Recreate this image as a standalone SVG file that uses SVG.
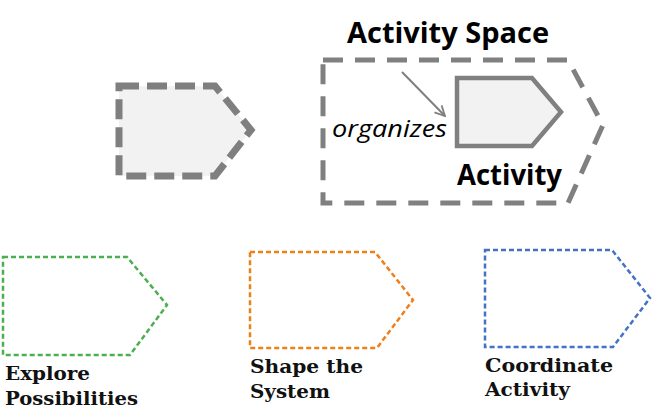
<svg xmlns="http://www.w3.org/2000/svg" width="654" height="412" viewBox="0 0 654 412">
<style>
.big{font-family:"Open Sans","Liberation Sans",sans-serif;font-weight:bold;font-size:28px;fill:#000}
.it{font-family:"Open Sans","Liberation Sans",sans-serif;font-style:italic;font-size:24px;fill:#000}
.lbl{font-family:"DejaVu Serif","Liberation Serif",serif;font-weight:bold;font-size:18px;fill:#111}
.gdash{fill:#f2f2f2;stroke:#7f7f7f;stroke-width:7;stroke-dasharray:20,8}
.small{fill:none;stroke-width:2.5;stroke-dasharray:5,3}
</style>
<defs>
<marker id="ah" viewBox="0 0 12 12" refX="11" refY="6" markerWidth="12" markerHeight="12" markerUnits="userSpaceOnUse" orient="auto">
<path d="M1,1 L11,6 L1,11" fill="none" stroke="#808080" stroke-width="1.8"/>
</marker>
</defs>
<g id="activity-shape">
<path class="gdash" d="M119,86 H215 L251,130 L215,176 H119 Z"/>
</g>
<g id="activity-space">
<path d="M323,60 H568 L603,125 L568,203 H323 Z" fill="none" stroke="#808080" stroke-width="5" stroke-dasharray="20,12"/>
<text class="big" x="347" y="43" textLength="202" lengthAdjust="spacingAndGlyphs">Activity Space</text>
</g>
<g id="activity">
<path d="M457,78 H532 L561,112 L532,146 H457 Z" fill="#f2f2f2" stroke="#808080" stroke-width="4.5"/>
<text class="big" x="457" y="185" textLength="105" lengthAdjust="spacingAndGlyphs">Activity</text>
</g>
<g id="organizes-label">
<text class="it" x="332" y="137" textLength="115" lengthAdjust="spacingAndGlyphs">organizes</text>
</g>
<g id="connectors">
<line x1="402" y1="72" x2="445" y2="116" stroke="#808080" stroke-width="2" marker-end="url(#ah)"/>
</g>
<g id="explore">
<path class="small" stroke="#4caf50" d="M3,257 H127 L167,305 L130,355 H3 Z"/>
<text class="lbl" x="5" y="380" textLength="85" lengthAdjust="spacingAndGlyphs">Explore</text>
<text class="lbl" x="5" y="405" textLength="133" lengthAdjust="spacingAndGlyphs">Possibilities</text>
</g>
<g id="shape-system">
<path class="small" stroke="#f07f1a" d="M250,252 H375 L413,300 L377,348 H250 Z"/>
<text class="lbl" x="250" y="373" textLength="113" lengthAdjust="spacingAndGlyphs">Shape the</text>
<text class="lbl" x="250" y="398" textLength="80" lengthAdjust="spacingAndGlyphs">System</text>
</g>
<g id="coordinate">
<path class="small" stroke="#4472c4" d="M485,250 H612 L650,298 L613,347 H485 Z"/>
<text class="lbl" x="485" y="372" textLength="128" lengthAdjust="spacingAndGlyphs">Coordinate</text>
<text class="lbl" x="485" y="396" textLength="85" lengthAdjust="spacingAndGlyphs">Activity</text>
</g>
</svg>
